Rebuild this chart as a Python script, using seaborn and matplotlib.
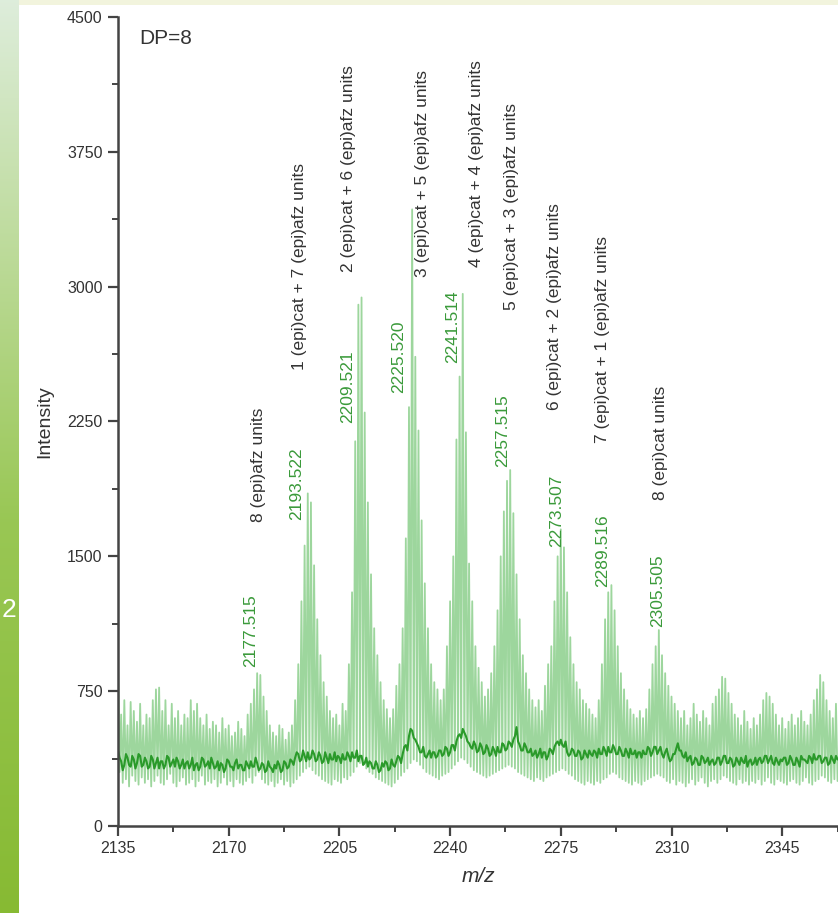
import numpy as np
import pandas as pd
import seaborn as sns
import matplotlib
matplotlib.use('Agg')
import matplotlib.pyplot as plt
from matplotlib.ticker import MultipleLocator

# m/z grid, one spike per unit
mz = np.arange(2135, 2363)

# tops of the light green spikes (one per m/z unit)
spike_tops = [
    900, 620, 700, 560, 690, 640, 580, 680, 560, 620,
    600, 700, 760, 770, 640, 700, 560, 680, 600, 640,
    560, 620, 600, 700, 640, 680, 600, 560, 620, 540,
    580, 560, 520, 600, 540, 560, 500, 520, 580, 540,
    500, 620, 680, 760, 850, 840, 720, 640, 560, 520,
    500, 560, 540, 480, 520, 560, 700, 900, 1250, 1560,
    1850, 1800, 1450, 1150, 950, 800, 720, 640, 600, 620,
    560, 680, 640, 900, 1300, 2140, 2900, 2940, 2300, 1800,
    1400, 1100, 950, 800, 700, 650, 600, 650, 780, 900,
    1100, 1600, 2330, 3430, 2610, 2200, 1700, 1350, 1100, 900,
    800, 760, 700, 760, 1000, 1250, 1500, 2150, 2500, 2960,
    2190, 1460, 1250, 1000, 880, 800, 720, 760, 850, 1000,
    1200, 1500, 1750, 1920, 1980, 1740, 1400, 1150, 950, 850,
    760, 700, 660, 700, 640, 780, 900, 1000, 1250, 1500,
    1650, 1550, 1300, 1050, 900, 800, 760, 700, 680, 650,
    620, 600, 700, 900, 1150, 1300, 1340, 1200, 1000, 850,
    760, 700, 650, 620, 600, 640, 600, 650, 760, 900,
    1000, 1090, 950, 850, 780, 720, 680, 640, 600, 640,
    560, 600, 680, 620, 580, 640, 600, 560, 680, 720,
    760, 830, 820, 740, 680, 620, 600, 560, 640, 580,
    540, 600, 560, 620, 700, 740, 720, 680, 620, 560,
    600, 540, 580, 620, 560, 600, 640, 580, 560, 620,
    700, 760, 840, 800, 700, 640, 600, 680,
]

# bottoms of the light green trace, half a unit after each top
spike_lows = [
    300, 240, 260, 220, 280, 250, 230, 270, 240, 260,
    220, 250, 280, 240, 230, 260, 290, 240, 220, 250,
    270, 230, 240, 260, 220, 250, 280, 230, 250, 240,
    260, 220, 240, 270, 230, 250, 220, 260, 240, 230,
    250, 270, 240, 280, 300, 260, 240, 230, 250, 220,
    240, 260, 230, 250, 220, 240, 260, 280, 300, 320,
    330, 310, 290, 280, 260, 250, 240, 230, 260, 250,
    240, 270, 260, 280, 300, 330, 350, 340, 320, 300,
    290, 270, 260, 250, 240, 230, 220, 240, 260, 280,
    300, 320, 350, 370, 360, 340, 320, 300, 290, 280,
    270, 260, 280, 290, 300, 320, 340, 360, 380, 370,
    350, 330, 310, 300, 290, 280, 270, 280, 290, 300,
    310, 320, 330, 340, 330, 320, 300, 290, 280, 270,
    260, 250, 270, 260, 250, 270, 280, 290, 300, 310,
    320, 310, 290, 280, 260, 250, 240, 230, 250, 240,
    230, 250, 240, 260, 270, 290, 300, 290, 270, 260,
    250, 240, 230, 250, 240, 230, 250, 260, 270, 280,
    290, 280, 270, 250, 240, 260, 230, 250, 240, 220,
    240, 260, 230, 250, 270, 240, 220, 250, 260, 240,
    260, 280, 270, 250, 240, 230, 260, 240, 250, 230,
    250, 240, 260, 230, 250, 270, 240, 230, 260, 250,
    240, 230, 250, 260, 240, 230, 250, 270, 240, 230,
    250, 260, 280, 270, 250, 240, 260, 250,
]

# dark green trace, read at whole m/z values
dark_trace = [
    420, 360, 340, 380, 330, 370, 350, 390, 340, 360,
    330, 370, 350, 320, 360, 340, 380, 350, 330, 360,
    340, 320, 360, 340, 310, 350, 330, 370, 340, 320,
    350, 330, 310, 340, 320, 360, 330, 350, 320, 340,
    310, 340, 360, 330, 350, 320, 340, 310, 330, 300,
    320, 340, 310, 350, 330, 360, 380, 400, 370, 390,
    410, 380, 400, 370, 390, 360, 380, 400, 370, 360,
    380, 400, 370, 390, 410, 380, 360, 390, 350, 330,
    350, 320, 340, 310, 330, 350, 320, 340, 360, 380,
    400, 450, 500, 530, 480, 440, 410, 390, 400, 380,
    410, 390, 420, 400, 430, 410, 450, 470, 510, 540,
    500, 460, 430, 450, 420, 440, 410, 430, 400, 420,
    440, 410, 450, 430, 460, 480, 550, 450, 420, 440,
    410, 390, 420, 400, 380, 410, 390, 420, 440, 470,
    480, 440, 410, 400, 420, 390, 410, 380, 400, 420,
    390, 410, 430, 400, 420, 440, 410, 430, 400, 420,
    390, 410, 430, 400, 380, 410, 420, 400, 430, 410,
    440, 420, 400, 410, 390, 370, 400, 460, 420, 380,
    360, 390, 350, 370, 340, 380, 360, 340, 370, 350,
    380, 360, 390, 350, 370, 340, 360, 380, 350, 330,
    370, 350, 340, 380, 360, 390, 370, 350, 380, 340,
    360, 380, 350, 370, 340, 360, 390, 370, 350, 380,
    400, 370, 390, 360, 380, 350, 370, 390,
]

# dark green trace, read half a unit after each whole m/z
dark_half = [
    380, 310, 400, 340, 390, 320, 400, 330, 380, 320,
    390, 320, 380, 360, 320, 390, 330, 370, 380, 320,
    370, 350, 320, 380, 340, 310, 380, 330, 360, 380,
    320, 360, 350, 300, 370, 330, 310, 370, 340, 310,
    360, 320, 330, 380, 310, 350, 300, 360, 320, 340,
    360, 300, 360, 320, 370, 340, 410, 360, 420, 360,
    370, 420, 360, 410, 350, 410, 350, 370, 410, 390,
    350, 370, 410, 360, 380, 420, 390, 340, 380, 360,
    320, 360, 300, 350, 360, 310, 370, 330, 390, 350,
    440, 420, 540, 490, 460, 410, 440, 380, 420, 410,
    380, 420, 390, 440, 390, 450, 420, 500, 490, 520,
    470, 440, 470, 410, 460, 400, 450, 390, 440, 390,
    410, 460, 420, 470, 440, 500, 470, 420, 460, 410,
    430, 400, 380, 430, 410, 370, 430, 400, 460, 450,
    450, 470, 390, 430, 390, 420, 370, 420, 380, 400,
    420, 380, 400, 440, 390, 410, 450, 400, 440, 390,
    430, 380, 400, 420, 410, 380, 400, 440, 390, 440,
    400, 440, 380, 430, 360, 400, 430, 420, 390, 410,
    380, 340, 380, 340, 390, 350, 380, 360, 340, 380,
    340, 390, 350, 380, 330, 380, 340, 360, 390, 360,
    340, 380, 370, 350, 390, 350, 390, 340, 360, 370,
    380, 340, 390, 340, 380, 330, 370, 360, 390, 350,
    370, 390, 350, 380, 340, 390, 350, 370,
]

# peak labels (green) and assignments (black)
mass_labels = ['2177.515', '2193.522', '2209.521', '2225.520', '2241.514',
               '2257.515', '2273.507', '2289.516', '2305.505']
unit_labels = ['8 (epi)afz units',
               '1 (epi)cat + 7 (epi)afz units',
               '2 (epi)cat + 6 (epi)afz units',
               '3 (epi)cat + 5 (epi)afz units',
               '4 (epi)cat + 4 (epi)afz units',
               '5 (epi)cat + 3 (epi)afz units',
               '6 (epi)cat + 2 (epi)afz units',
               '7 (epi)cat + 1 (epi)afz units',
               '8 (epi)cat units']

# label placement (x in m/z, y = bottom of rotated text)
mass_pos = [(2177.0, 884), (2191.6, 1702), (2207.7, 2241), (2223.8, 2408),
            (2240.9, 2575), (2256.7, 1997), (2273.8, 1552), (2288.3, 1329),
            (2305.7, 1107)]
unit_pos = [(2179.3, 1691), (2192.5, 2536), (2208.0, 3081), (2231.4, 3053),
            (2248.5, 3109), (2259.5, 2870), (2273.0, 2314), (2288.3, 2130),
            (2306.4, 1813)]

light_df = pd.DataFrame({
    'mz': np.column_stack([mz, mz + 0.5]).ravel(),
    'intensity': np.column_stack([spike_tops, spike_lows]).ravel(),
})
dark_df = pd.DataFrame({
    'mz': np.column_stack([mz, mz + 0.5]).ravel(),
    'intensity': np.column_stack([dark_trace, dark_half]).ravel(),
})

sns.set_style('ticks')
plt.rcParams['font.family'] = ['Liberation Sans', 'DejaVu Sans']

W, H = 838, 913
fig = plt.figure(figsize=(W / 100, H / 100), dpi=100)
fig.patch.set_facecolor('white')

# slide background behind the chart
bg = fig.add_axes([0, 0, 1, 1], zorder=-10)
img = np.ones((H, W, 3))
rows = np.arange(H)
top_col = np.array([0.87, 0.93, 0.86])
mid_col = np.array([0.60, 0.78, 0.33])
bot_col = np.array([0.53, 0.73, 0.20])
for c in range(3):
    img[:, :19, c] = np.interp(rows, [0, 520, H], [top_col[c], mid_col[c], bot_col[c]])[:, None]
img[:5, 19:] = [0.95, 0.96, 0.87]
bg.imshow(img, aspect='auto', extent=[0, W, H, 0])
bg.set_xlim(0, W)
bg.set_ylim(H, 0)
bg.axis('off')
bg.text(9, 610, '2', color='white', fontsize=19, ha='center', va='center')

ax = fig.add_axes([118 / W, 1 - 826 / H, 1 - 118 / W, (826 - 17) / H])
ax.set_facecolor('none')

sns.lineplot(data=light_df, x='mz', y='intensity', ax=ax, estimator=None,
             sort=False, color='#5cbb5c', alpha=0.6, linewidth=1.3)
sns.lineplot(data=dark_df, x='mz', y='intensity', ax=ax, estimator=None,
             sort=False, color='#2a9a2a', linewidth=1.5)

ax.set_xlim(2135, 2135 + (W - 118) / (110.7 / 35))
ax.set_ylim(0, 4500)
ax.xaxis.set_major_locator(MultipleLocator(35))
ax.xaxis.set_minor_locator(MultipleLocator(17.5))
ax.yaxis.set_major_locator(MultipleLocator(750))
ax.yaxis.set_minor_locator(MultipleLocator(375))

sns.despine(ax=ax, top=True, right=True)
for side in ['left', 'bottom']:
    ax.spines[side].set_linewidth(1.8)
    ax.spines[side].set_color('#444444')
ax.tick_params(which='major', length=7, width=1.6, color='#444444',
               labelsize=11.5, labelcolor='#333333', pad=4)
ax.tick_params(which='minor', length=4, width=1.4, color='#444444')

ax.set_xlabel('m/z', fontsize=15, style='italic', color='#333333', labelpad=8)
ax.set_ylabel('Intensity', fontsize=14, color='#333333', labelpad=10)

ax.text(0.03, 0.985, 'DP=8', transform=ax.transAxes, fontsize=15,
        color='#333333', ha='left', va='top')

for txt, (x, y) in zip(mass_labels, mass_pos):
    ax.text(x, y, txt, rotation=90, ha='center', va='bottom',
            fontsize=12.5, color='#3a9a3a')
for txt, (x, y) in zip(unit_labels, unit_pos):
    ax.text(x, y, txt, rotation=90, ha='center', va='bottom',
            fontsize=12.5, color='#333333')

fig.savefig('out.png', dpi=100, facecolor=fig.get_facecolor())
